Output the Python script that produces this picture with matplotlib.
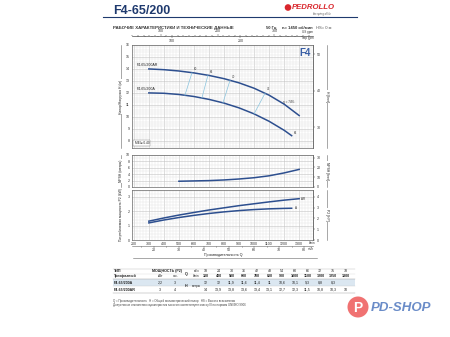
import matplotlib
matplotlib.use('Agg')
import matplotlib.pyplot as plt
from matplotlib.patches import Circle, Rectangle
from matplotlib.ticker import MultipleLocator

plt.rcParams['font.family'] = ['Liberation Sans', 'DejaVu Sans']

# ---- curves ----
q_ar = [300, 400, 500, 600, 700, 800, 900, 1000, 1100, 1200, 1300]
h_ar = [14, 13.94, 13.83, 13.67, 13.46, 13.19, 12.84, 12.39, 11.81, 11.06, 10.11]
q_a = [300, 400, 500, 600, 700, 800, 900, 1000, 1100, 1200, 1250]
h_a = [12, 11.97, 11.87, 11.7, 11.46, 11.15, 10.75, 10.25, 9.63, 8.88, 8.43]

# efficiency lines (top point on AR, bottom point on A)
eta_q_top = [587, 693, 840, 1073]
eta_h_top = [13.69, 13.47, 13.05, 11.97]
eta_q_bot = [540, 653, 793, 1000]
eta_h_bot = [11.8, 11.58, 11.17, 10.25]
eta_labels = ['60', '66', '70', '72']

q_npsh = [500, 600, 700, 800, 900, 1000, 1100, 1200, 1300]
npsh = [1.8, 1.9, 2.0, 2.2, 2.5, 2.9, 3.5, 4.4, 5.5]

q_par = [300, 400, 500, 600, 700, 800, 900, 1000, 1100, 1200, 1300]
p_ar = [1.3, 1.52, 1.72, 1.9, 2.07, 2.22, 2.37, 2.5, 2.63, 2.75, 2.85]
q_pa = [300, 400, 500, 600, 700, 800, 900, 1000, 1100, 1200, 1250]
p_a = [1.18, 1.38, 1.55, 1.7, 1.83, 1.94, 2.03, 2.1, 2.15, 2.18, 2.19]

# ---- table ----
tab_m3h = [18, 24, 30, 36, 42, 48, 54, 60, 66, 72, 75, 78]
tab_lpm = [300, 400, 500, 600, 700, 800, 900, 1000, 1100, 1200, 1250, 1300]
tab_h_a = [12, 12, 11.9, 11.6, 11.4, 11, 10.6, 10.1, 9.3, 8.8, 8.3]
tab_h_ar = [14, 13.9, 13.8, 13.6, 13.4, 13.1, 12.7, 12.3, 11.5, 10.8, 10.3, 10]
models = ['F4-65/200A', 'F4-65/200AR']
kw = ['2,2', '3']
hp = ['3', '4']

W, H = 450, 337
blue = '#2d4f8f'
navy = '#1f3a6e'
fs = 2.6

fig = plt.figure(figsize=(4.5, 3.37), dpi=100)

# overlay in pixel units for decorations
ov = fig.add_axes([0, 0, 1, 1])
ov.set_xlim(0, W)
ov.set_ylim(H, 0)
ov.axis('off')

def box(y0, y1):
    return [132 / W, 1 - y1 / H, 181 / W, (y1 - y0) / H]

ax1 = fig.add_axes(box(45, 148))
ax2 = fig.add_axes(box(155, 187))
ax3 = fig.add_axes(box(190, 240))

for ax in (ax1, ax2, ax3):
    ax.set_xlim(188, 1392)
    ax.xaxis.set_major_locator(MultipleLocator(100))
    ax.xaxis.set_minor_locator(MultipleLocator(20))
    ax.grid(which='minor', color='#e2e2e2', lw=0.3)
    ax.grid(which='major', color='#c4c4c4', lw=0.4)
    ax.tick_params(which='both', length=0, labelsize=fs, pad=1.5, colors='#333')
    for s in ax.spines.values():
        s.set_color('#666')
        s.set_linewidth(0.5)
    ax.set_axisbelow(True)

# head
ax1.set_ylim(7.4, 16)
ax1.yaxis.set_major_locator(MultipleLocator(1))
ax1.yaxis.set_minor_locator(MultipleLocator(0.2))
ax1.tick_params(labelbottom=False)
ax1.plot(q_ar, h_ar, color=blue, lw=1.1)
ax1.plot(q_a, h_a, color=blue, lw=1.1)
for i in range(len(eta_labels)):
    ax1.plot([eta_q_top[i], eta_q_bot[i]], [eta_h_top[i], eta_h_bot[i]], color='#8ac4de', lw=0.5)
    ax1.text(eta_q_top[i] + 10, eta_h_top[i] + 0.15, eta_labels[i], fontsize=2.2, color='#333', va='bottom')
ax1.text(1195, 11.15, 'η = 74%', fontsize=2.2, color='#333')
ax1.text(q_a[-1] + 15, h_a[-1] + 0.1, '66', fontsize=2.2, color='#333')
ax1.text(220, h_ar[0] + 0.25, models[1], fontsize=fs, color='#222')
ax1.text(220, h_a[0] + 0.25, models[0], fontsize=fs, color='#222')
ax1.text(1375, 15.1, 'F4', fontsize=7, color='#3a5fa5', fontweight='bold', ha='right')
ax1.text(205, 7.75, 'MEI≥ 0.40', fontsize=2.3, color='#222',
         bbox=dict(fc='white', ec='#777', lw=0.3, pad=0.8))
r1 = ax1.secondary_yaxis('right', functions=(lambda m: m * 3.281, lambda f: f / 3.281))
r1.set_yticks([30, 40, 50])

us = ax1.secondary_xaxis(1.09, functions=(lambda q: q / 3.785, lambda g: g * 3.785))
us.set_xticks([100, 200, 300])
us.xaxis.set_minor_locator(MultipleLocator(10))
imp = ax1.secondary_xaxis(1.09, functions=(lambda q: q / 4.546, lambda g: g * 4.546))
imp.set_alignment('bottom')
imp.set_xticks([100, 200])
imp.xaxis.set_minor_locator(MultipleLocator(10))
for sa in (us, imp):
    sa.tick_params(which='major', length=1.5, width=0.3, labelsize=fs, pad=0.8, colors='#333')
    sa.tick_params(which='minor', length=0.8, width=0.3)
    for s in sa.spines.values():
        s.set_linewidth(0.4)
        s.set_color('#666')

# npsh
ax2.set_ylim(0, 10)
ax2.yaxis.set_major_locator(MultipleLocator(2))
ax2.yaxis.set_minor_locator(MultipleLocator(1))
ax2.tick_params(labelbottom=False)
ax2.plot(q_npsh, npsh, color=blue, lw=1.1)
r2 = ax2.secondary_yaxis('right', functions=(lambda m: m * 3.281, lambda f: f / 3.281))
r2.set_yticks([0, 10, 20, 30])

# power
ax3.set_ylim(0, 3.45)
ax3.yaxis.set_major_locator(MultipleLocator(1))
ax3.yaxis.set_minor_locator(MultipleLocator(0.2))
ax3.set_xticks([200] + q_par)
ax3.plot(q_par, p_ar, color=blue, lw=1.1)
ax3.plot(q_pa, p_a, color=blue, lw=1.1)
ax3.text(q_par[-1] + 15, p_ar[-1], 'AR', fontsize=2.2, va='center', color='#333')
ax3.text(q_pa[-1] + 20, p_a[-1], 'A', fontsize=2.2, va='center', color='#333')
r3 = ax3.secondary_yaxis('right', functions=(lambda k: k * 1.341, lambda h: h / 1.341))
r3.set_yticks([0, 1, 2, 3, 4])
m3 = ax3.secondary_xaxis(-0.12, functions=(lambda q: q * 0.06, lambda m: m / 0.06))
m3.set_xticks([20, 30, 40, 50, 60, 70, 80])
m3.xaxis.set_minor_locator(MultipleLocator(5))
m3.tick_params(which='major', length=1.2, width=0.3, labelsize=fs, pad=0.5, colors='#333')
m3.tick_params(which='minor', length=0.7, width=0.3)
for s in m3.spines.values():
    s.set_linewidth(0.4)
    s.set_color('#666')

for r in (r1, r2, r3):
    r.tick_params(length=1.2, width=0.3, labelsize=fs, pad=1.5, colors='#333')
    for s in r.spines.values():
        s.set_linewidth(0.5)
        s.set_color('#666')

# unit texts
ov.text(308, 32.5, 'US gpm', fontsize=2.2, color='#333', ha='center', va='center')
ov.text(308, 38.5, 'Imp gpm', fontsize=2.2, color='#333', ha='center', va='center')
ov.text(312, 243.5, 'l/min', fontsize=2.2, color='#333', ha='center', va='center')
ov.text(311, 249.5, 'm³/h', fontsize=2.2, color='#333', ha='center', va='center')

# side labels with bracket lines
def side_label(x, y0, y1, txt, rot):
    ov.plot([x, x], [y0, y1], color='#666', lw=0.4)
    ov.text(x, (y0 + y1) / 2, txt, rotation=rot, ha='center', va='center', fontsize=2.4,
            color='#222', bbox=dict(fc='white', ec='none', pad=0.6))

side_label(121, 45, 148, 'Напор/Нагрузка H (м)', 90)
side_label(121, 155, 187, 'NPSH (метры)', 90)
side_label(121, 190, 240, 'Потребляемая мощность P2 (kW)', 90)
side_label(327, 45, 148, 'H [feet]', 270)
side_label(327, 155, 187, 'NPSH [feet]', 270)
side_label(327, 190, 240, 'P2 [HP]', 270)
ov.plot([133, 317], [258, 258], color='#666', lw=0.4)
ov.text(223, 255.3, 'Производительность Q', fontsize=2.6, color='#222', ha='center', va='center')

# header
ov.text(113, 11.5, 'F4-65/200', fontsize=9, fontweight='bold', color=navy, va='center')
ov.plot([103, 357], [17.3, 17.3], color=navy, lw=0.8)
ov.text(113, 28, 'РАБОЧИЕ ХАРАКТЕРИСТИКИ И ТЕХНИЧЕСКИЕ ДАННЫЕ', fontsize=3.2,
        fontweight='bold', color='#333', va='center')
ov.text(266, 28, '50 Гц', fontsize=3.0, fontweight='bold', color='#333', va='center')
ov.text(282, 28, 'n= 1450 об/мин', fontsize=3.0, fontweight='bold', color='#333', va='center')
ov.text(316, 28, 'HS= 0 м', fontsize=3.0, color='#555', va='center')
ov.add_patch(Circle((288, 7.5), 2.6, color='#d9262c'))
ov.text(292, 7.5, 'PEDROLLO', fontsize=5.6, fontweight='bold', style='italic', color='#d9262c', va='center')
ov.text(322, 13.5, 'the spring of life', fontsize=1.8, color='#555', ha='center', va='center')

# table
xs = [206 + 12.7 * i for i in range(len(tab_m3h))]
ov.add_patch(Rectangle((113, 279), 242, 7, color='#dbe7f1', lw=0))
for yy, c in ((268.5, '#bbb'), (278.7, '#999'), (286, '#ccc'), (293.3, '#999')):
    ov.plot([113, 355], [yy, yy], color=c, lw=0.3)
ov.plot([113, 355], [273.5, 273.5], color='#ddd', lw=0.3)
ov.text(114, 271, 'ТИП', fontsize=fs, fontweight='bold', color='#222', va='center')
ov.text(114, 276, 'Трехфазный', fontsize=fs, fontweight='bold', color='#222', va='center')
ov.text(167, 271, 'МОЩНОСТЬ (P2)', fontsize=fs, fontweight='bold', color='#222', ha='center', va='center')
ov.text(160, 276, 'кВт', fontsize=fs, color='#222', ha='center', va='center')
ov.text(175, 276, 'л.с.', fontsize=fs, color='#222', ha='center', va='center')
ov.text(186, 273.5, 'Q', fontsize=fs, fontweight='bold', color='#222', ha='center', va='center')
ov.text(196, 271, 'м³/ч', fontsize=2.2, color='#222', ha='center', va='center')
ov.text(196, 276, 'l/min', fontsize=2.2, color='#222', ha='center', va='center')
ov.text(186, 286, 'H', fontsize=fs, fontweight='bold', color='#222', ha='center', va='center')
ov.text(196, 286, 'метры', fontsize=2.2, color='#222', ha='center', va='center')
for i, x in enumerate(xs):
    ov.text(x, 271, str(tab_m3h[i]), fontsize=fs, color='#222', ha='center', va='center')
    ov.text(x, 276, str(tab_lpm[i]), fontsize=fs, fontweight='bold', color='#222', ha='center', va='center')
rows_h = [tab_h_a, tab_h_ar]
for r, yy in enumerate((282.5, 289.7)):
    ov.text(114, yy, models[r], fontsize=fs, fontweight='bold', color='#222', va='center')
    ov.text(160, yy, kw[r], fontsize=fs, color='#222', ha='center', va='center')
    ov.text(175, yy, hp[r], fontsize=fs, color='#222', ha='center', va='center')
    for i, v in enumerate(rows_h[r]):
        ov.text(xs[i], yy, ('%g' % v).replace('.', ','), fontsize=fs, color='#222', ha='center', va='center')

ov.text(113, 301, 'Q = Производительность   H = Общий манометрический напор   HS = Высота всасывания',
        fontsize=2.1, color='#444', va='center')
ov.text(113, 305, 'Допустимые отклонения характеристик насосов соответствуют классу III по нормам UNI/ISO 9906',
        fontsize=2.1, color='#444', va='center')

# shop logo
ov.add_patch(Circle((358, 307), 10.5, color='#f07272', lw=0))
ov.text(358, 307.5, 'P', fontsize=10, fontweight='bold', color='white', ha='center', va='center')
ov.text(371, 308, 'PD-SHOP', fontsize=9.5, fontweight='bold', style='italic', color='#6a8cc8', va='center')

fig.savefig('out.png', dpi=100)
